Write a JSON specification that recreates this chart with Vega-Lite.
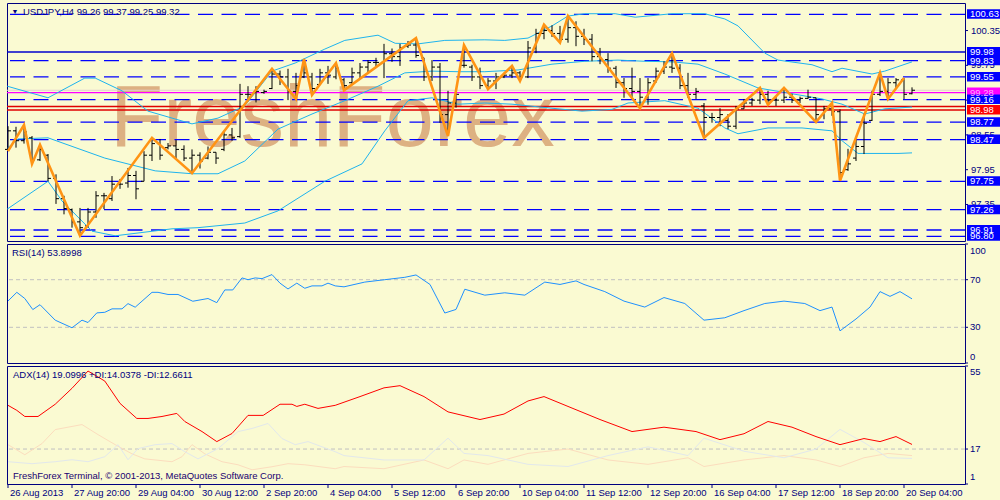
{
"$schema": "https://vega.github.io/schema/vega-lite/v6.json",
"background": "#FAFAD2",
"padding": {"left": 2, "top": 2, "right": 0, "bottom": 16},
"spacing": 3,
"bounds": "flush",
"config": {"view": {"stroke": "#000080", "strokeWidth": 1}, "text": {"font": "Liberation Sans"}, "axis": {"labelFont": "Liberation Sans"}},
"datasets": {
"bars": [
{"i":0,"o":98.30,"h":98.70,"l":98.27,"c":98.62},{"i":1,"o":98.62,"h":98.69,"l":98.33,"c":98.45},{"i":2,"o":98.45,"h":98.72,"l":98.40,"c":98.60},{"i":3,"o":98.50,"h":98.53,"l":98.05,"c":98.12},{"i":4,"o":98.12,"h":98.38,"l":98.10,"c":98.30},{"i":5,"o":98.20,"h":98.22,"l":97.75,"c":97.80},{"i":6,"o":97.80,"h":97.87,"l":97.36,"c":97.45},{"i":7,"o":97.45,"h":97.50,"l":97.18,"c":97.28},{"i":8,"o":97.26,"h":97.28,"l":96.95,"c":97.05},{"i":9,"o":97.05,"h":97.29,"l":96.81,"c":96.95},
{"i":10,"o":96.98,"h":97.29,"l":96.95,"c":97.22},{"i":11,"o":97.22,"h":97.58,"l":97.12,"c":97.50},{"i":12,"o":97.50,"h":97.55,"l":97.27,"c":97.50},{"i":13,"o":97.45,"h":97.84,"l":97.41,"c":97.70},{"i":14,"o":97.70,"h":97.79,"l":97.62,"c":97.70},{"i":15,"o":97.72,"h":97.98,"l":97.64,"c":97.85},{"i":16,"o":97.85,"h":97.93,"l":97.44,"c":97.62},{"i":17,"o":97.75,"h":98.27,"l":97.75,"c":98.20},{"i":18,"o":98.20,"h":98.50,"l":98.10,"c":98.40},{"i":19,"o":98.40,"h":98.48,"l":98.12,"c":98.20},
{"i":20,"o":98.33,"h":98.41,"l":98.30,"c":98.36},{"i":21,"o":98.36,"h":98.46,"l":98.15,"c":98.30},{"i":22,"o":98.30,"h":98.37,"l":98.10,"c":98.15},{"i":23,"o":98.15,"h":98.30,"l":97.89,"c":98.20},{"i":24,"o":98.20,"h":98.25,"l":97.97,"c":98.10},{"i":25,"o":98.15,"h":98.35,"l":98.13,"c":98.25},{"i":26,"o":98.25,"h":98.25,"l":98.05,"c":98.15},{"i":27,"o":98.30,"h":98.62,"l":98.27,"c":98.55},{"i":28,"o":98.55,"h":98.67,"l":98.45,"c":98.50},{"i":29,"o":98.52,"h":99.43,"l":98.50,"c":99.25},
{"i":30,"o":99.25,"h":99.39,"l":99.13,"c":99.25},{"i":31,"o":99.28,"h":99.39,"l":99.11,"c":99.30},{"i":32,"o":99.28,"h":99.33,"l":99.26,"c":99.30},{"i":33,"o":99.35,"h":99.69,"l":99.34,"c":99.60},{"i":34,"o":99.60,"h":99.66,"l":99.41,"c":99.55},{"i":35,"o":99.55,"h":99.69,"l":99.15,"c":99.30},{"i":36,"o":99.30,"h":99.62,"l":99.17,"c":99.40},{"i":37,"o":99.55,"h":99.86,"l":99.53,"c":99.62},{"i":38,"o":99.55,"h":99.62,"l":99.24,"c":99.35},{"i":39,"o":99.42,"h":99.69,"l":99.41,"c":99.62},
{"i":40,"o":99.62,"h":99.74,"l":99.43,"c":99.58},{"i":41,"o":99.55,"h":99.79,"l":99.51,"c":99.70},{"i":42,"o":99.50,"h":99.53,"l":99.32,"c":99.40},{"i":43,"o":99.45,"h":99.71,"l":99.43,"c":99.62},{"i":44,"o":99.62,"h":99.79,"l":99.53,"c":99.72},{"i":45,"o":99.72,"h":99.84,"l":99.60,"c":99.80},{"i":46,"o":99.80,"h":99.88,"l":99.71,"c":99.80},{"i":47,"o":99.80,"h":100.12,"l":99.53,"c":99.95},{"i":48,"o":99.95,"h":100.04,"l":99.81,"c":99.90},{"i":49,"o":99.90,"h":100.12,"l":99.74,"c":100.05},
{"i":50,"o":100.08,"h":100.17,"l":100.05,"c":100.10},{"i":51,"o":100.10,"h":100.22,"l":99.88,"c":99.92},{"i":52,"o":99.88,"h":99.88,"l":99.48,"c":99.55},{"i":53,"o":99.55,"h":99.84,"l":99.48,"c":99.72},{"i":54,"o":99.72,"h":99.79,"l":98.76,"c":98.90},{"i":55,"o":98.90,"h":99.31,"l":98.53,"c":99.10},{"i":56,"o":99.10,"h":99.31,"l":99.02,"c":99.25},{"i":57,"o":99.75,"h":100.10,"l":99.71,"c":99.75},{"i":58,"o":99.72,"h":99.76,"l":99.48,"c":99.55},{"i":59,"o":99.55,"h":99.71,"l":99.34,"c":99.40},
{"i":60,"o":99.40,"h":99.53,"l":99.34,"c":99.48},{"i":61,"o":99.48,"h":99.62,"l":99.34,"c":99.55},{"i":62,"o":99.55,"h":99.62,"l":99.53,"c":99.58},{"i":63,"o":99.58,"h":99.74,"l":99.53,"c":99.62},{"i":64,"o":99.62,"h":99.65,"l":99.48,"c":99.55},{"i":65,"o":99.55,"h":100.17,"l":99.53,"c":100.05},{"i":66,"o":100.05,"h":100.38,"l":99.96,"c":100.30},{"i":67,"o":100.30,"h":100.45,"l":100.20,"c":100.35},{"i":68,"o":100.35,"h":100.44,"l":100.24,"c":100.30},{"i":69,"o":100.30,"h":100.43,"l":100.14,"c":100.20},
{"i":70,"o":100.20,"h":100.60,"l":100.14,"c":100.40},{"i":71,"o":100.40,"h":100.51,"l":100.08,"c":100.25},{"i":72,"o":100.25,"h":100.38,"l":100.10,"c":100.20},{"i":73,"o":100.20,"h":100.29,"l":99.82,"c":99.90},{"i":74,"o":99.90,"h":100.05,"l":99.77,"c":99.85},{"i":75,"o":99.85,"h":99.96,"l":99.62,"c":99.70},{"i":76,"o":99.70,"h":99.74,"l":99.36,"c":99.45},{"i":77,"o":99.45,"h":99.53,"l":99.19,"c":99.35},{"i":78,"o":99.35,"h":99.71,"l":99.19,"c":99.30},{"i":79,"o":99.30,"h":99.53,"l":99.01,"c":99.20},
{"i":80,"o":99.20,"h":99.53,"l":99.07,"c":99.45},{"i":81,"o":99.48,"h":99.71,"l":99.45,"c":99.65},{"i":82,"o":99.65,"h":99.82,"l":99.60,"c":99.72},{"i":83,"o":99.72,"h":99.96,"l":99.62,"c":99.70},{"i":84,"o":99.70,"h":99.77,"l":99.34,"c":99.40},{"i":85,"o":99.40,"h":99.62,"l":99.19,"c":99.25},{"i":86,"o":99.25,"h":99.36,"l":99.17,"c":99.30},{"i":87,"o":99.05,"h":99.10,"l":98.50,"c":98.85},{"i":88,"o":98.85,"h":98.93,"l":98.76,"c":98.85},{"i":89,"o":98.85,"h":99.01,"l":98.70,"c":98.90},
{"i":90,"o":98.80,"h":98.91,"l":98.65,"c":98.70},{"i":91,"o":98.70,"h":99.05,"l":98.65,"c":99.00},{"i":92,"o":99.00,"h":99.17,"l":99.00,"c":99.10},{"i":93,"o":99.10,"h":99.19,"l":99.05,"c":99.15},{"i":94,"o":99.15,"h":99.36,"l":99.08,"c":99.25},{"i":95,"o":99.25,"h":99.31,"l":99.07,"c":99.15},{"i":96,"o":99.15,"h":99.21,"l":99.05,"c":99.15},{"i":97,"o":99.15,"h":99.36,"l":99.10,"c":99.20},{"i":98,"o":99.20,"h":99.26,"l":99.10,"c":99.15},{"i":99,"o":99.15,"h":99.21,"l":99.10,"c":99.18},
{"i":100,"o":99.18,"h":99.33,"l":99.17,"c":99.20},{"i":101,"o":99.19,"h":99.19,"l":98.77,"c":98.90},{"i":102,"o":98.90,"h":99.05,"l":98.82,"c":99.00},{"i":103,"o":99.00,"h":99.10,"l":98.88,"c":98.95},{"i":104,"o":98.95,"h":98.99,"l":97.76,"c":97.90},{"i":105,"o":97.95,"h":98.31,"l":97.93,"c":98.05},{"i":106,"o":98.15,"h":98.48,"l":98.10,"c":98.35},{"i":107,"o":98.35,"h":98.91,"l":98.22,"c":98.75},{"i":108,"o":98.80,"h":99.31,"l":98.79,"c":99.25},{"i":109,"o":99.25,"h":99.62,"l":99.22,"c":99.30},
{"i":110,"o":99.30,"h":99.53,"l":99.17,"c":99.45},{"i":111,"o":99.45,"h":99.53,"l":99.34,"c":99.50},{"i":112,"o":99.50,"h":99.53,"l":99.17,"c":99.25},{"i":113,"o":99.26,"h":99.37,"l":99.25,"c":99.32}
],
"zz": [
{"i":0,"p":98.27},{"i":2,"p":98.72},{"i":3,"p":98.05},{"i":4,"p":98.38},{"i":9,"p":96.81},{"i":18,"p":98.50},{"i":23,"p":97.89},{"i":33,"p":99.69},{"i":36,"p":99.17},{"i":37,"p":99.86},{"i":38,"p":99.24},{"i":41,"p":99.79},{"i":42,"p":99.32},{"i":51,"p":100.22},{"i":55,"p":98.53},{"i":57,"p":100.10},{"i":60,"p":99.34},{"i":63,"p":99.74},{"i":64,"p":99.48},{"i":67,"p":100.45},{"i":69,"p":100.14},{"i":70,"p":100.60},{"i":79,"p":99.01},{"i":83,"p":99.96},{"i":87,"p":98.50},{"i":94,"p":99.36},{"i":95,"p":99.07},{"i":97,"p":99.36},{"i":101,"p":98.77},{"i":103,"p":99.10},{"i":104,"p":97.76},{"i":109,"p":99.62},{"i":110,"p":99.17},{"i":112,"p":99.53}
],
"bb": [
{"i":-0.1,"b":"u","p":99.39},{"i":5,"b":"u","p":99.19},{"i":9.6,"b":"u","p":99.53},{"i":10.9,"b":"u","p":99.53},{"i":14.25,"b":"u","p":99.31},{"i":17.5,"b":"u","p":98.96},{"i":23,"b":"u","p":98.74},{"i":26.25,"b":"u","p":98.84},{"i":29.6,"b":"u","p":99.05},{"i":33,"b":"u","p":99.65},{"i":35.9,"b":"u","p":99.79},{"i":39.6,"b":"u","p":100.03},{"i":42.1,"b":"u","p":100.18},{"i":46.25,"b":"u","p":100.27},{"i":48.4,"b":"u","p":100.13},{"i":51.25,"b":"u","p":100.12},{"i":54.6,"b":"u","p":100.18},{"i":59.6,"b":"u","p":100.19},{"i":62.1,"b":"u","p":100.18},{"i":65,"b":"u","p":100.22},{"i":68,"b":"u","p":100.43},{"i":70,"b":"u","p":100.60},{"i":72.1,"b":"u","p":100.64},{"i":75.9,"b":"u","p":100.64},{"i":78.4,"b":"u","p":100.58},{"i":83,"b":"u","p":100.64},{"i":87.1,"b":"u","p":100.64},{"i":89.6,"b":"u","p":100.55},{"i":91.25,"b":"u","p":100.43},{"i":94.6,"b":"u","p":99.96},{"i":96.25,"b":"u","p":99.84},{"i":100.5,"b":"u","p":99.76},{"i":103,"b":"u","p":99.64},{"i":104.25,"b":"u","p":99.70},{"i":108,"b":"u","p":99.60},{"i":109.6,"b":"u","p":99.65},{"i":113,"b":"u","p":99.81},
{"i":-0.1,"b":"m","p":98.32},{"i":1.25,"b":"m","p":98.48},{"i":5,"b":"m","p":98.50},{"i":12.1,"b":"m","p":98.15},{"i":18.4,"b":"m","p":97.93},{"i":23,"b":"m","p":97.88},{"i":26.25,"b":"m","p":97.88},{"i":29.6,"b":"m","p":98.10},{"i":33.75,"b":"m","p":98.65},{"i":38,"b":"m","p":98.91},{"i":42.1,"b":"m","p":99.14},{"i":46.25,"b":"m","p":99.39},{"i":49.6,"b":"m","p":99.62},{"i":53,"b":"m","p":99.65},{"i":56.25,"b":"m","p":99.64},{"i":59.6,"b":"m","p":99.64},{"i":63.75,"b":"m","p":99.67},{"i":68,"b":"m","p":99.77},{"i":72.1,"b":"m","p":99.82},{"i":76.25,"b":"m","p":99.84},{"i":79.6,"b":"m","p":99.82},{"i":83,"b":"m","p":99.81},{"i":86.25,"b":"m","p":99.77},{"i":89.6,"b":"m","p":99.60},{"i":93.75,"b":"m","p":99.36},{"i":98,"b":"m","p":99.26},{"i":101.75,"b":"m","p":99.17},{"i":104.25,"b":"m","p":99.08},{"i":107.1,"b":"m","p":98.91},{"i":109.6,"b":"m","p":99.00},{"i":113,"b":"m","p":99.03},
{"i":-0.1,"b":"l","p":97.27},{"i":5,"b":"l","p":97.75},{"i":6.75,"b":"l","p":97.41},{"i":10.5,"b":"l","p":96.89},{"i":13.4,"b":"l","p":96.81},{"i":20.5,"b":"l","p":96.93},{"i":23.75,"b":"l","p":96.95},{"i":29.6,"b":"l","p":97.03},{"i":33.75,"b":"l","p":97.24},{"i":39.6,"b":"l","p":97.75},{"i":44.25,"b":"l","p":98.05},{"i":47.1,"b":"l","p":98.62},{"i":50,"b":"l","p":99.14},{"i":53,"b":"l","p":99.19},{"i":56.25,"b":"l","p":99.08},{"i":59.6,"b":"l","p":99.10},{"i":63,"b":"l","p":99.08},{"i":68,"b":"l","p":99.01},{"i":71.75,"b":"l","p":98.96},{"i":75.5,"b":"l","p":98.99},{"i":77.5,"b":"l","p":99.10},{"i":82.1,"b":"l","p":99.14},{"i":86.25,"b":"l","p":99.01},{"i":89.6,"b":"l","p":98.67},{"i":91.25,"b":"l","p":98.57},{"i":95,"b":"l","p":98.67},{"i":99.25,"b":"l","p":98.67},{"i":103,"b":"l","p":98.62},{"i":104.25,"b":"l","p":98.45},{"i":106.25,"b":"l","p":98.23},{"i":111.25,"b":"l","p":98.23},{"i":113,"b":"l","p":98.24}
],
"levels": [
{"p":100.63,"kind":"level"},{"p":99.83,"kind":"level"},{"p":99.55,"kind":"level"},{"p":99.16,"kind":"level"},{"p":98.77,"kind":"level"},{"p":98.47,"kind":"level"},{"p":97.75,"kind":"level"},{"p":97.26,"kind":"level"},{"p":96.91,"kind":"level"},{"p":96.80,"kind":"level"},
{"p":99.98,"kind":"major"},{"p":99.32,"kind":"ask"},{"p":99.28,"kind":"bid"},{"p":99.04,"kind":"stop"},{"p":98.98,"kind":"stop"}
],
"tags": [
{"p":100.63,"kind":"level"},{"p":99.98,"kind":"major"},{"p":99.83,"kind":"level"},{"p":99.55,"kind":"level"},{"p":99.28,"kind":"bid"},{"p":99.16,"kind":"level"},{"p":98.98,"kind":"stop"},{"p":98.77,"kind":"level"},{"p":98.47,"kind":"level"},{"p":97.75,"kind":"level"},{"p":97.26,"kind":"level"},{"p":96.91,"kind":"level"},{"p":96.80,"kind":"level"}
],
"pticks": [{"p":100.35},{"p":99.75},{"p":99.15},{"p":98.55},{"p":97.95},{"p":97.35}],
"xl": [
{"i":0,"t":"26 Aug 2013"},{"i":8,"t":"27 Aug 20:00"},{"i":16,"t":"29 Aug 04:00"},{"i":24,"t":"30 Aug 12:00"},{"i":32,"t":"2 Sep 20:00"},{"i":40,"t":"4 Sep 04:00"},{"i":48,"t":"5 Sep 12:00"},{"i":56,"t":"6 Sep 20:00"},{"i":64,"t":"10 Sep 04:00"},{"i":72,"t":"11 Sep 12:00"},{"i":80,"t":"12 Sep 20:00"},{"i":88,"t":"16 Sep 04:00"},{"i":96,"t":"17 Sep 12:00"},{"i":104,"t":"18 Sep 20:00"},{"i":112,"t":"20 Sep 04:00"}
],
"rsi": [
{"i":0,"v":52.1},{"i":1.1,"v":59.4},{"i":2.1,"v":54.2},{"i":3.1,"v":44.9},{"i":4,"v":49.0},{"i":5.9,"v":36.0},{"i":8,"v":29.6},{"i":9.25,"v":36.0},{"i":10,"v":34.0},{"i":11.1,"v":42.1},{"i":12.1,"v":42.6},{"i":13,"v":45.5},{"i":14.25,"v":45.5},{"i":15,"v":49.9},{"i":15.9,"v":46.9},{"i":18,"v":59.4},{"i":18.75,"v":59.4},{"i":20,"v":57.6},{"i":21.25,"v":57.6},{"i":23.1,"v":51.9},{"i":25,"v":54.2},{"i":26.1,"v":50.7},{"i":27.1,"v":61.4},{"i":28.1,"v":61.4},{"i":29.25,"v":71.5},{"i":30,"v":70},{"i":30.9,"v":71.5},{"i":31.75,"v":70.9},{"i":33,"v":74.3},{"i":34,"v":67.1},{"i":35,"v":62.2},{"i":36.1,"v":67.1},{"i":37.1,"v":62.8},{"i":38,"v":64.8},{"i":39.25,"v":64.8},{"i":40,"v":67.1},{"i":40.9,"v":64.8},
{"i":42,"v":64},{"i":44.6,"v":68},{"i":47.1,"v":70},{"i":49.6,"v":72},{"i":51,"v":74},{"i":52.75,"v":66},{"i":54.6,"v":42},{"i":56,"v":45},{"i":57.1,"v":62},{"i":59.6,"v":57},{"i":62.1,"v":59},{"i":64.6,"v":57},{"i":67.1,"v":68},{"i":69,"v":66},{"i":71,"v":69},{"i":72,"v":66},{"i":74.6,"v":60},{"i":77,"v":52},{"i":79.6,"v":47},{"i":82,"v":55},{"i":84.6,"v":50},{"i":87,"v":36},{"i":89.6,"v":38},{"i":92,"v":44},{"i":94.6,"v":50},{"i":97,"v":52},{"i":99.6,"v":50},{"i":101.5,"v":44},{"i":103,"v":47},{"i":104,"v":27},{"i":106,"v":37},{"i":107.75,"v":47},{"i":109,"v":60},{"i":110.25,"v":56},{"i":111.5,"v":60},{"i":113,"v":53.9}
],
"adx": [
{"i":0,"v":37.0},{"i":1.1,"v":34.7},{"i":2.1,"v":31.9},{"i":3.75,"v":31.9},{"i":5.9,"v":37.5},{"i":8,"v":44.8},{"i":10,"v":52.7},{"i":12.1,"v":48.1},{"i":14,"v":37.9},{"i":16.1,"v":31.0},{"i":17.5,"v":31.0},{"i":19.25,"v":31.9},{"i":21.1,"v":33.3},{"i":22.1,"v":29.6},{"i":24.25,"v":25.0},{"i":26.1,"v":20.4},{"i":28,"v":24.1},{"i":30,"v":32.4},{"i":31.9,"v":32.4},{"i":34,"v":37.5},{"i":35.5,"v":37.5},{"i":36.1,"v":36.5},{"i":37.1,"v":37.5},{"i":38.75,"v":35.6},{"i":40.9,"v":37.0},
{"i":44,"v":41},{"i":47,"v":45},{"i":49,"v":46},{"i":52,"v":41},{"i":55,"v":34},{"i":59,"v":30.5},{"i":62,"v":33},{"i":65,"v":39},{"i":67,"v":41},{"i":70,"v":36.5},{"i":74,"v":30.5},{"i":78,"v":25},{"i":82,"v":27},{"i":86,"v":25},{"i":89,"v":21.3},{"i":92,"v":24},{"i":95,"v":29.6},{"i":98,"v":27},{"i":101,"v":22.7},{"i":104,"v":19},{"i":107,"v":21.8},{"i":109,"v":20.4},{"i":111,"v":22.7},{"i":113,"v":19.1}
],
"di": [
{"i":0,"s":"p","v":19.0},{"i":2.1,"s":"p","v":14.4},{"i":4.25,"s":"p","v":19.5},{"i":5.9,"s":"p","v":25.9},{"i":9.25,"s":"p","v":28.2},{"i":11.25,"s":"p","v":23.6},{"i":13.4,"s":"p","v":19},{"i":15.5,"s":"p","v":14.8},{"i":17.1,"s":"p","v":12.5},{"i":20.5,"s":"p","v":11.2},{"i":21.75,"s":"p","v":13.5},{"i":23,"s":"p","v":19},{"i":24.6,"s":"p","v":14.8},{"i":26.75,"s":"p","v":11.2},{"i":28.75,"s":"p","v":9.8},{"i":30.5,"s":"p","v":7.5},{"i":33,"s":"p","v":8.9},{"i":35,"s":"p","v":10.3},{"i":37.1,"s":"p","v":9.8},{"i":40.9,"s":"p","v":8},{"i":42,"s":"p","v":9},{"i":47,"s":"p","v":8},{"i":52,"s":"p","v":12},{"i":55,"s":"p","v":8},{"i":57,"s":"p","v":12},{"i":60,"s":"p","v":10},{"i":65,"s":"p","v":15},{"i":70,"s":"p","v":17},{"i":75,"s":"p","v":12},{"i":80,"s":"p","v":10},{"i":85,"s":"p","v":13},{"i":87,"s":"p","v":9},{"i":92,"s":"p","v":12},{"i":97,"s":"p","v":14},{"i":101,"s":"p","v":12},{"i":104,"s":"p","v":9},{"i":107,"s":"p","v":13},{"i":110,"s":"p","v":15},{"i":113,"s":"p","v":14},
{"i":0,"s":"m","v":11.2},{"i":3,"s":"m","v":10.3},{"i":5.9,"s":"m","v":11.2},{"i":8,"s":"m","v":12.1},{"i":10,"s":"m","v":11.2},{"i":12.1,"s":"m","v":13.5},{"i":13.75,"s":"m","v":19},{"i":15,"s":"m","v":12.1},{"i":16.25,"s":"m","v":17.2},{"i":18.4,"s":"m","v":19},{"i":20.5,"s":"m","v":19.5},{"i":22.1,"s":"m","v":15.8},{"i":23.75,"s":"m","v":12.5},{"i":26.25,"s":"m","v":17.2},{"i":28.75,"s":"m","v":25},{"i":30.5,"s":"m","v":26.4},{"i":32.5,"s":"m","v":28.7},{"i":34.25,"s":"m","v":21.8},{"i":35.9,"s":"m","v":19},{"i":37.5,"s":"m","v":20.4},{"i":40.9,"s":"m","v":15.8},{"i":42,"s":"m","v":14},{"i":47,"s":"m","v":12},{"i":52,"s":"m","v":12},{"i":55,"s":"m","v":22},{"i":57,"s":"m","v":15},{"i":60,"s":"m","v":14},{"i":65,"s":"m","v":10},{"i":70,"s":"m","v":9},{"i":75,"s":"m","v":14},{"i":80,"s":"m","v":18},{"i":85,"s":"m","v":14},{"i":87,"s":"m","v":22},{"i":92,"s":"m","v":16},{"i":97,"s":"m","v":13},{"i":101,"s":"m","v":17},{"i":104,"s":"m","v":26},{"i":107,"s":"m","v":20},{"i":110,"s":"m","v":13},{"i":113,"s":"m","v":12.7}
]
},
"vconcat": [
{
"width": 958, "height": 238,
"layer": [
{"data": {"values": [{"t": "FreshForex"}]}, "mark": {"type": "text", "fontSize": 87, "color": "#DDB182", "align": "left", "baseline": "alphabetic"},
 "encoding": {"x": {"datum": 12.75, "type": "quantitative", "scale": {"domain": [-0.125, 119.625], "nice": false, "zero": false}, "axis": null},
  "y": {"datum": 98.36, "type": "quantitative", "scale": {"domain": [96.72, 100.825], "nice": false, "zero": false}, "axis": null},
  "text": {"field": "t"}}},
{"data": {"name": "pticks"}, "mark": {"type": "rule", "color": "#000080", "strokeWidth": 1, "x2Offset": 3},
 "encoding": {"x": {"datum": 119.625, "type": "quantitative", "scale": {"domain": [-0.125, 119.625], "nice": false, "zero": false}, "axis": null},
  "x2": {"datum": 119.625},
  "y": {"field": "p", "type": "quantitative", "scale": {"domain": [96.72, 100.825], "nice": false, "zero": false}, "axis": null}}},
{"data": {"name": "pticks"}, "mark": {"type": "text", "fontSize": 9.5, "color": "#000080", "align": "left", "baseline": "middle", "dx": 6},
 "encoding": {"x": {"datum": 119.625, "type": "quantitative", "scale": {"domain": [-0.125, 119.625], "nice": false, "zero": false}, "axis": null},
  "y": {"field": "p", "type": "quantitative", "scale": {"domain": [96.72, 100.825], "nice": false, "zero": false}, "axis": null},
  "text": {"field": "p", "format": ".2f"}}},
{"data": {"name": "levels"}, "transform": [{"filter": "datum.kind == 'level'"}], "mark": {"type": "rule", "color": "#0000FF", "strokeDash": [15, 8.5], "strokeWidth": 1.3},
 "encoding": {"y": {"field": "p", "type": "quantitative", "scale": {"domain": [96.72, 100.825], "nice": false, "zero": false}, "axis": null}}},
{"data": {"name": "levels"}, "transform": [{"filter": "datum.kind == 'major'"}], "mark": {"type": "rule", "color": "#0000CD", "strokeWidth": 1.3},
 "encoding": {"y": {"field": "p", "type": "quantitative", "scale": {"domain": [96.72, 100.825], "nice": false, "zero": false}, "axis": null}}},
{"data": {"name": "levels"}, "transform": [{"filter": "datum.kind == 'ask'"}], "mark": {"type": "rule", "color": "#E2CFCF", "strokeWidth": 1},
 "encoding": {"y": {"field": "p", "type": "quantitative", "scale": {"domain": [96.72, 100.825], "nice": false, "zero": false}, "axis": null}}},
{"data": {"name": "levels"}, "transform": [{"filter": "datum.kind == 'bid'"}], "mark": {"type": "rule", "color": "#FF00FF", "strokeWidth": 1.3},
 "encoding": {"y": {"field": "p", "type": "quantitative", "scale": {"domain": [96.72, 100.825], "nice": false, "zero": false}, "axis": null}}},
{"data": {"name": "levels"}, "transform": [{"filter": "datum.kind == 'stop'"}], "mark": {"type": "rule", "color": "#E00000", "strokeWidth": 1.5},
 "encoding": {"y": {"field": "p", "type": "quantitative", "scale": {"domain": [96.72, 100.825], "nice": false, "zero": false}, "axis": null}}},
{"data": {"name": "bb"}, "mark": {"type": "line", "color": "#1EB4EE", "strokeWidth": 1},
 "encoding": {"x": {"field": "i", "type": "quantitative", "scale": {"domain": [-0.125, 119.625], "nice": false, "zero": false}, "axis": null},
  "y": {"field": "p", "type": "quantitative", "scale": {"domain": [96.72, 100.825], "nice": false, "zero": false}, "axis": null},
  "detail": {"field": "b"}, "order": {"field": "i"}}},
{"data": {"name": "bars"}, "mark": {"type": "rule", "color": "#000000", "strokeWidth": 1},
 "encoding": {"x": {"field": "i", "type": "quantitative", "scale": {"domain": [-0.125, 119.625], "nice": false, "zero": false}, "axis": null},
  "y": {"field": "l", "type": "quantitative", "scale": {"domain": [96.72, 100.825], "nice": false, "zero": false}, "axis": null},
  "y2": {"field": "h"}}},
{"data": {"name": "bars"}, "mark": {"type": "rule", "color": "#000000", "strokeWidth": 1, "xOffset": -3, "x2Offset": 0},
 "encoding": {"x": {"field": "i", "type": "quantitative", "scale": {"domain": [-0.125, 119.625], "nice": false, "zero": false}, "axis": null},
  "x2": {"field": "i"},
  "y": {"field": "o", "type": "quantitative", "scale": {"domain": [96.72, 100.825], "nice": false, "zero": false}, "axis": null}}},
{"data": {"name": "bars"}, "mark": {"type": "rule", "color": "#000000", "strokeWidth": 1, "xOffset": 0, "x2Offset": 3},
 "encoding": {"x": {"field": "i", "type": "quantitative", "scale": {"domain": [-0.125, 119.625], "nice": false, "zero": false}, "axis": null},
  "x2": {"field": "i"},
  "y": {"field": "c", "type": "quantitative", "scale": {"domain": [96.72, 100.825], "nice": false, "zero": false}, "axis": null}}},
{"data": {"name": "zz"}, "mark": {"type": "line", "color": "#FF9414", "strokeWidth": 2.6},
 "encoding": {"x": {"field": "i", "type": "quantitative", "scale": {"domain": [-0.125, 119.625], "nice": false, "zero": false}, "axis": null},
  "y": {"field": "p", "type": "quantitative", "scale": {"domain": [96.72, 100.825], "nice": false, "zero": false}, "axis": null},
  "order": {"field": "i"}}},
{"data": {"values": [{"t": "▼"}]}, "mark": {"type": "text", "fontSize": 7, "color": "#000080", "align": "center", "baseline": "middle", "dx": 8, "dy": 9},
 "encoding": {"x": {"datum": -0.125, "type": "quantitative", "scale": {"domain": [-0.125, 119.625], "nice": false, "zero": false}, "axis": null},
  "y": {"datum": 100.825, "type": "quantitative", "scale": {"domain": [96.72, 100.825], "nice": false, "zero": false}, "axis": null},
  "text": {"field": "t"}}},
{"data": {"values": [{"t": "USDJPY,H4  99.26 99.37 99.25 99.32"}]}, "mark": {"type": "text", "fontSize": 9.5, "color": "#000080", "align": "left", "baseline": "middle", "dx": 16, "dy": 9},
 "encoding": {"x": {"datum": -0.125, "type": "quantitative", "scale": {"domain": [-0.125, 119.625], "nice": false, "zero": false}, "axis": null},
  "y": {"datum": 100.825, "type": "quantitative", "scale": {"domain": [96.72, 100.825], "nice": false, "zero": false}, "axis": null},
  "text": {"field": "t"}}},
{"data": {"name": "tags"}, "mark": {"type": "rect", "xOffset": 2, "x2Offset": 35, "yOffset": -5, "y2Offset": 4.5},
 "encoding": {"x": {"datum": 119.625, "type": "quantitative", "scale": {"domain": [-0.125, 119.625], "nice": false, "zero": false}, "axis": null},
  "x2": {"datum": 119.625},
  "y": {"field": "p", "type": "quantitative", "scale": {"domain": [96.72, 100.825], "nice": false, "zero": false}, "axis": null},
  "y2": {"field": "p"},
  "color": {"condition": [{"test": "datum.kind == 'bid'", "value": "#FF00FF"}, {"test": "datum.kind == 'stop'", "value": "#FF0000"}], "value": "#0000FF"}}},
{"data": {"name": "tags"}, "mark": {"type": "text", "fontSize": 9.5, "align": "left", "baseline": "middle", "dx": 5},
 "encoding": {"x": {"datum": 119.625, "type": "quantitative", "scale": {"domain": [-0.125, 119.625], "nice": false, "zero": false}, "axis": null},
  "y": {"field": "p", "type": "quantitative", "scale": {"domain": [96.72, 100.825], "nice": false, "zero": false}, "axis": null},
  "text": {"field": "p", "format": ".2f"},
  "color": {"condition": {"test": "datum.kind == 'bid'", "value": "#FFA8FF"}, "value": "#FFFFFF"}}}
]
},
{
"width": 958, "height": 119,
"layer": [
{"data": {"values": [{"v": 70}, {"v": 30}]}, "mark": {"type": "rule", "color": "#C0C0C0", "strokeDash": [4, 3], "strokeWidth": 1},
 "encoding": {"y": {"field": "v", "type": "quantitative", "scale": {"domain": [0, 100], "nice": false, "zero": false}, "axis": null}}},
{"data": {"values": [{"v": 100}, {"v": 70}, {"v": 30}, {"v": 0}]}, "mark": {"type": "rule", "color": "#000080", "strokeWidth": 1, "x2Offset": 3},
 "encoding": {"x": {"datum": 119.625, "type": "quantitative", "scale": {"domain": [-0.125, 119.625], "nice": false, "zero": false}, "axis": null},
  "x2": {"datum": 119.625},
  "y": {"field": "v", "type": "quantitative", "scale": {"domain": [0, 100], "nice": false, "zero": false}, "axis": null}}},
{"data": {"values": [{"v": 70}, {"v": 30}]}, "mark": {"type": "text", "fontSize": 9.5, "color": "#000080", "align": "left", "baseline": "middle", "dx": 5},
 "encoding": {"x": {"datum": 119.625, "type": "quantitative", "scale": {"domain": [-0.125, 119.625], "nice": false, "zero": false}, "axis": null},
  "y": {"field": "v", "type": "quantitative", "scale": {"domain": [0, 100], "nice": false, "zero": false}, "axis": null},
  "text": {"field": "v"}}},
{"data": {"values": [{"v": 100}]}, "mark": {"type": "text", "fontSize": 9.5, "color": "#000080", "align": "left", "baseline": "top", "dx": 5, "dy": 2},
 "encoding": {"x": {"datum": 119.625, "type": "quantitative", "scale": {"domain": [-0.125, 119.625], "nice": false, "zero": false}, "axis": null},
  "y": {"field": "v", "type": "quantitative", "scale": {"domain": [0, 100], "nice": false, "zero": false}, "axis": null},
  "text": {"field": "v"}}},
{"data": {"values": [{"v": 0}]}, "mark": {"type": "text", "fontSize": 9.5, "color": "#000080", "align": "left", "baseline": "bottom", "dx": 5, "dy": -1},
 "encoding": {"x": {"datum": 119.625, "type": "quantitative", "scale": {"domain": [-0.125, 119.625], "nice": false, "zero": false}, "axis": null},
  "y": {"field": "v", "type": "quantitative", "scale": {"domain": [0, 100], "nice": false, "zero": false}, "axis": null},
  "text": {"field": "v"}}},
{"data": {"name": "rsi"}, "mark": {"type": "line", "color": "#1E90FF", "strokeWidth": 1},
 "encoding": {"x": {"field": "i", "type": "quantitative", "scale": {"domain": [-0.125, 119.625], "nice": false, "zero": false}, "axis": null},
  "y": {"field": "v", "type": "quantitative", "scale": {"domain": [0, 100], "nice": false, "zero": false}, "axis": null},
  "order": {"field": "i"}}},
{"data": {"values": [{"t": "RSI(14) 53.8998"}]}, "mark": {"type": "text", "fontSize": 9.5, "color": "#000080", "align": "left", "baseline": "middle", "dx": 5, "dy": 9},
 "encoding": {"x": {"datum": -0.125, "type": "quantitative", "scale": {"domain": [-0.125, 119.625], "nice": false, "zero": false}, "axis": null},
  "y": {"datum": 100, "type": "quantitative", "scale": {"domain": [0, 100], "nice": false, "zero": false}, "axis": null},
  "text": {"field": "t"}}}
]
},
{
"width": 958, "height": 118,
"layer": [
{"data": {"values": [{"v": 17}]}, "mark": {"type": "rule", "color": "#C0C0C0", "strokeDash": [4, 3], "strokeWidth": 1},
 "encoding": {"y": {"field": "v", "type": "quantitative", "scale": {"domain": [1, 55], "nice": false, "zero": false}, "axis": null}}},
{"data": {"values": [{"v": 55}, {"v": 17}, {"v": 1}]}, "mark": {"type": "rule", "color": "#000080", "strokeWidth": 1, "x2Offset": 3},
 "encoding": {"x": {"datum": 119.625, "type": "quantitative", "scale": {"domain": [-0.125, 119.625], "nice": false, "zero": false}, "axis": null},
  "x2": {"datum": 119.625},
  "y": {"field": "v", "type": "quantitative", "scale": {"domain": [1, 55], "nice": false, "zero": false}, "axis": null}}},
{"data": {"values": [{"v": 17}]}, "mark": {"type": "text", "fontSize": 9.5, "color": "#000080", "align": "left", "baseline": "middle", "dx": 5},
 "encoding": {"x": {"datum": 119.625, "type": "quantitative", "scale": {"domain": [-0.125, 119.625], "nice": false, "zero": false}, "axis": null},
  "y": {"field": "v", "type": "quantitative", "scale": {"domain": [1, 55], "nice": false, "zero": false}, "axis": null},
  "text": {"field": "v"}}},
{"data": {"values": [{"v": 55}]}, "mark": {"type": "text", "fontSize": 9.5, "color": "#000080", "align": "left", "baseline": "top", "dx": 5, "dy": 1},
 "encoding": {"x": {"datum": 119.625, "type": "quantitative", "scale": {"domain": [-0.125, 119.625], "nice": false, "zero": false}, "axis": null},
  "y": {"field": "v", "type": "quantitative", "scale": {"domain": [1, 55], "nice": false, "zero": false}, "axis": null},
  "text": {"field": "v"}}},
{"data": {"values": [{"v": 1}]}, "mark": {"type": "text", "fontSize": 9.5, "color": "#000080", "align": "left", "baseline": "bottom", "dx": 5, "dy": -2},
 "encoding": {"x": {"datum": 119.625, "type": "quantitative", "scale": {"domain": [-0.125, 119.625], "nice": false, "zero": false}, "axis": null},
  "y": {"field": "v", "type": "quantitative", "scale": {"domain": [1, 55], "nice": false, "zero": false}, "axis": null},
  "text": {"field": "v"}}},
{"data": {"name": "xl"}, "mark": {"type": "rule", "color": "#000080", "strokeWidth": 1, "y2Offset": 4},
 "encoding": {"x": {"field": "i", "type": "quantitative", "scale": {"domain": [-0.125, 119.625], "nice": false, "zero": false}, "axis": null},
  "y": {"datum": 1, "type": "quantitative", "scale": {"domain": [1, 55], "nice": false, "zero": false}, "axis": null},
  "y2": {"datum": 1}}},
{"data": {"name": "xl"}, "mark": {"type": "text", "fontSize": 9.5, "color": "#000080", "align": "left", "baseline": "top", "dx": 2, "dy": 4},
 "encoding": {"x": {"field": "i", "type": "quantitative", "scale": {"domain": [-0.125, 119.625], "nice": false, "zero": false}, "axis": null},
  "y": {"datum": 1, "type": "quantitative", "scale": {"domain": [1, 55], "nice": false, "zero": false}, "axis": null},
  "text": {"field": "t"}}},
{"data": {"name": "di"}, "mark": {"type": "line", "strokeWidth": 1},
 "encoding": {"x": {"field": "i", "type": "quantitative", "scale": {"domain": [-0.125, 119.625], "nice": false, "zero": false}, "axis": null},
  "y": {"field": "v", "type": "quantitative", "scale": {"domain": [1, 55], "nice": false, "zero": false}, "axis": null},
  "color": {"field": "s", "type": "nominal", "scale": {"domain": ["p", "m"], "range": ["#FCDDBE", "#E2E8EC"]}, "legend": null},
  "order": {"field": "i"}}},
{"data": {"name": "adx"}, "mark": {"type": "line", "color": "#FF0000", "strokeWidth": 1},
 "encoding": {"x": {"field": "i", "type": "quantitative", "scale": {"domain": [-0.125, 119.625], "nice": false, "zero": false}, "axis": null},
  "y": {"field": "v", "type": "quantitative", "scale": {"domain": [1, 55], "nice": false, "zero": false}, "axis": null},
  "order": {"field": "i"}}},
{"data": {"values": [{"t": "ADX(14) 19.0996 +DI:14.0378 -DI:12.6611"}]}, "mark": {"type": "text", "fontSize": 9.5, "color": "#000080", "align": "left", "baseline": "middle", "dx": 6, "dy": 9},
 "encoding": {"x": {"datum": -0.125, "type": "quantitative", "scale": {"domain": [-0.125, 119.625], "nice": false, "zero": false}, "axis": null},
  "y": {"datum": 55, "type": "quantitative", "scale": {"domain": [1, 55], "nice": false, "zero": false}, "axis": null},
  "text": {"field": "t"}}},
{"data": {"values": [{"t": "FreshForex Terminal, © 2001-2013, MetaQuotes Software Corp."}]}, "mark": {"type": "text", "fontSize": 9.5, "color": "#200070", "align": "left", "baseline": "middle", "dx": 6, "dy": -8},
 "encoding": {"x": {"datum": -0.125, "type": "quantitative", "scale": {"domain": [-0.125, 119.625], "nice": false, "zero": false}, "axis": null},
  "y": {"datum": 1, "type": "quantitative", "scale": {"domain": [1, 55], "nice": false, "zero": false}, "axis": null},
  "text": {"field": "t"}}}
]
}
]
}
